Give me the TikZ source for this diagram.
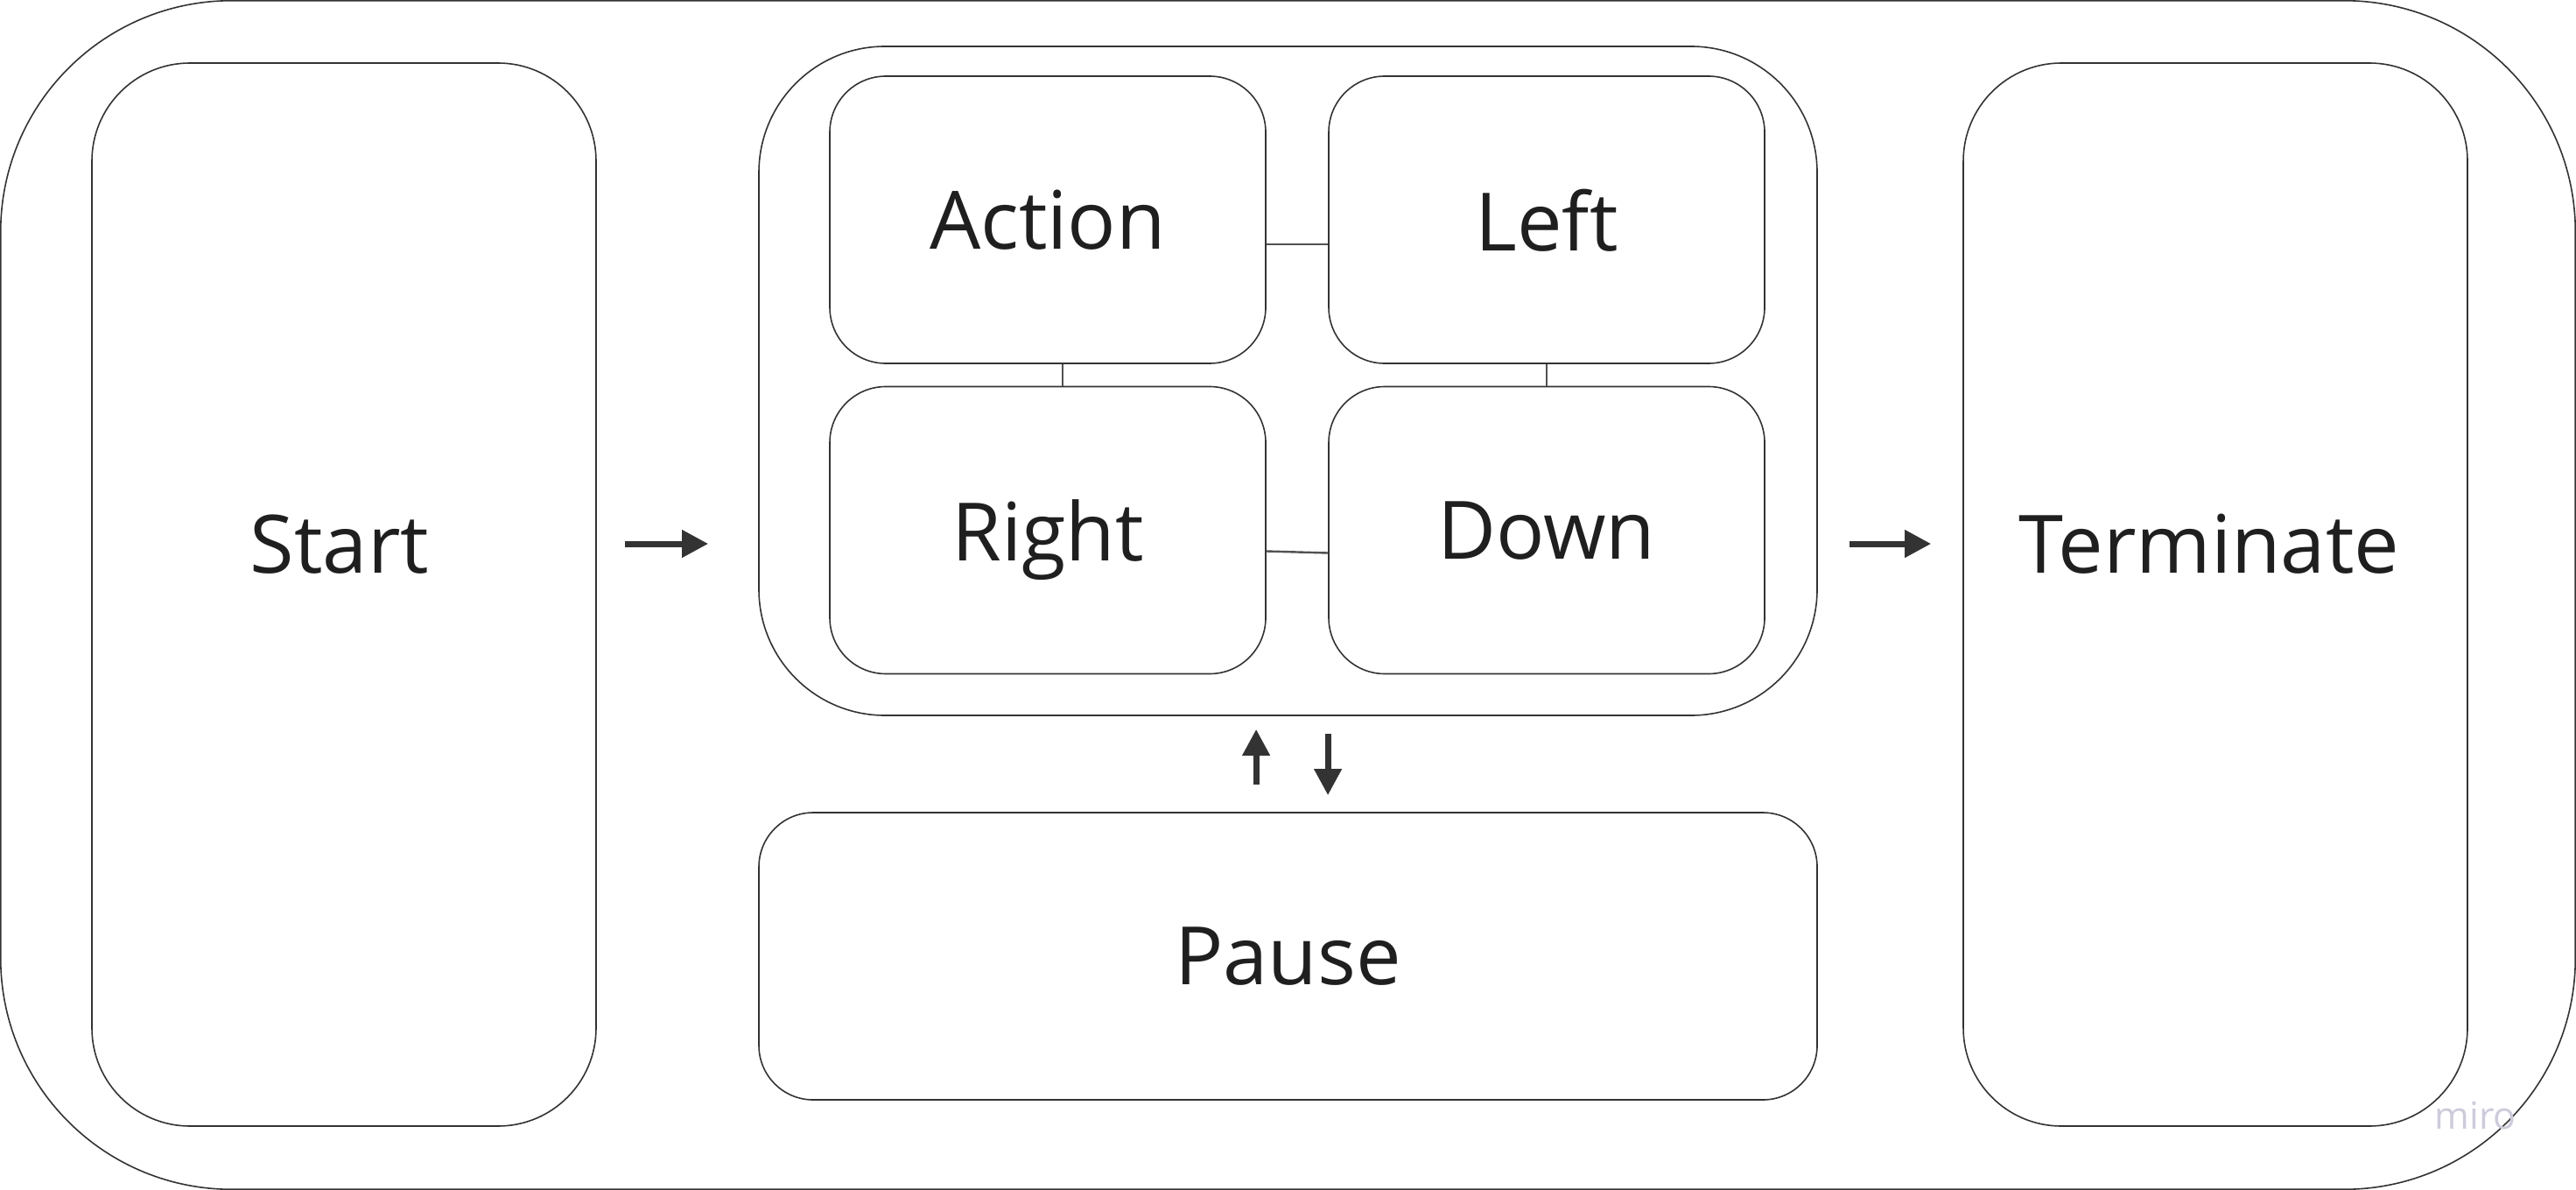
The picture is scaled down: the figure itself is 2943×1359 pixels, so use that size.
\documentclass[tikz,border=0pt]{standalone}
\usepackage{fontspec}
\setmainfont{Open Sans}
\usetikzlibrary{arrows.meta}
\definecolor{edge}{HTML}{333333}
\definecolor{ink}{HTML}{1F1F1F}
\definecolor{mark}{RGB}{205,203,219}
\begin{document}
\begin{tikzpicture}[x=0.25pt, y=-0.25pt,
    box/.style={draw=edge, line width=0.4pt, minimum width=124.5pt, minimum height=82pt, rounded corners=16pt, inner sep=0pt},
    txt/.style={font=\fontsize{23}{28}\selectfont, text=ink, text depth=0pt, inner sep=0pt},
    link/.style={draw=edge!85, line width=0.6pt},
    flow/.style={draw=edge, line width=1.75pt, -{Triangle[length=7.5pt, width=7.5pt]}}]
    \useasboundingbox (0,0) rectangle (2943,1359);
    \draw[edge, line width=0.4pt, rounded corners=66pt] (0.75,0.75) rectangle (2942.25,1358.25);
    \node[box, minimum width=144pt, minimum height=303.5pt, rounded corners=28pt] (start) at (393,679) {};
    \node[txt] (startlabel) at (388,621) {Start};
    \node[box, minimum width=144pt, minimum height=303.5pt, rounded corners=28pt] (term) at (2531,679) {};
    \node[txt] (termlabel) at (2524,621) {Terminate};
    \node[box, minimum width=302.25pt, minimum height=191pt, rounded corners=36pt] (group) at (1471.5,435) {};
    \node[box, txt] (action) at (1197,251) {Action};
    \node[box, txt] (left) at (1767,251) {Left};
    \node[box, txt] (right) at (1197,605.5) {Right};
    \node[box, txt] (down) at (1767,605.5) {Down};
    \node[box, txt, minimum width=302.25pt, rounded corners=15.5pt] (pause) at (1471.5,1092) {Pause};
    \node[font=\fontsize{10.7}{13}\selectfont, text=mark, text depth=0pt, inner sep=0pt] (miro) at (2828,1274) {miro};
    % links inside the group
    \draw[link] ([yshift=-7pt]action.east) -- ([yshift=-7pt]action.east -| left.west);
    \draw[link] ([yshift=-6pt]right.east) -- ([yshift=-6.5pt]down.west);
    \draw[link] ([xshift=4.25pt]action.south) -- ([xshift=4.25pt]action.south |- right.north);
    \draw[link] (left.south) -- (down.north);
    % flow arrows
    \draw[flow, shorten <=8pt, shorten >=14.25pt] (start.east |- startlabel) -- (group.west |- startlabel);
    \draw[flow, shorten <=9pt, shorten >=9pt] (group.east |- termlabel) -- (term.west |- termlabel);
    \draw[flow, shorten <=7.75pt, shorten >=3.75pt] ([xshift=-9.1pt]pause.north) -- ([xshift=-9.1pt]pause.north |- group.south);
    \draw[flow, shorten <=5pt, shorten >=4.75pt] ([xshift=11.4pt]group.south) -- ([xshift=11.4pt]group.south |- pause.north);
\end{tikzpicture}
\end{document}
